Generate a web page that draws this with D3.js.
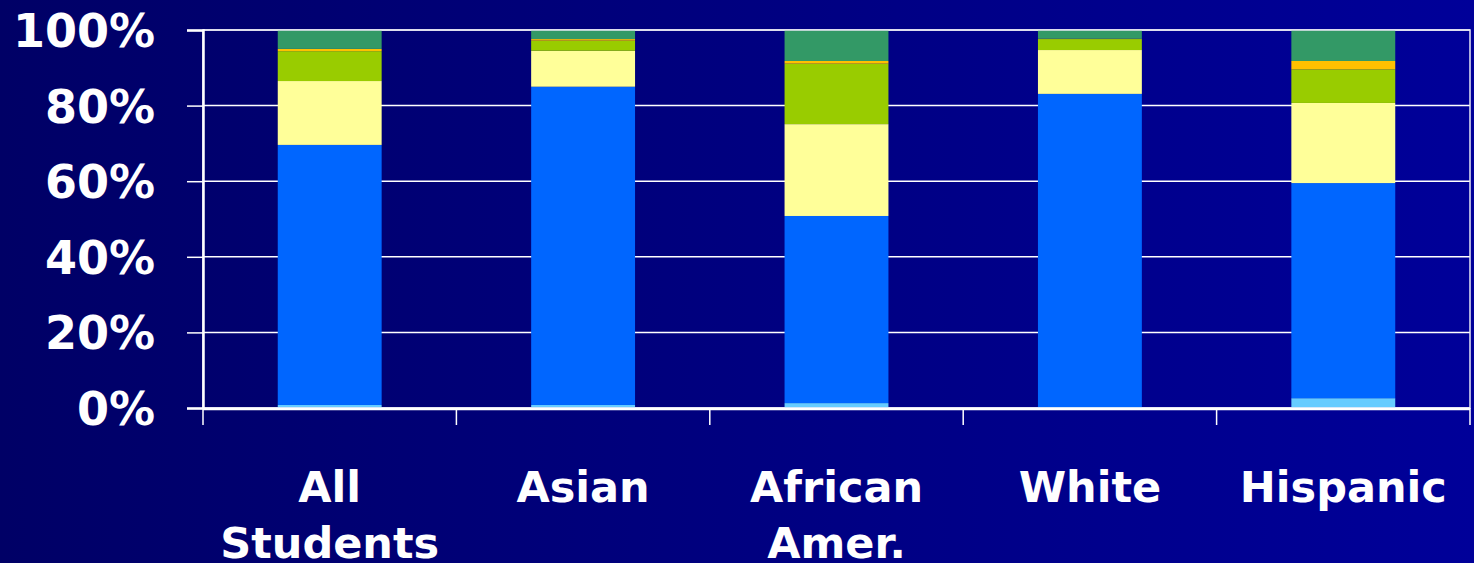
<!DOCTYPE html>
<html>
<head>
<meta charset="utf-8">
<script src="https://cdn.jsdelivr.net/npm/d3@7"></script>
<style>
  html, body { margin: 0; padding: 0; overflow: hidden; }
  svg { display: block; }
  text { font-family: "DejaVu Sans", Verdana, sans-serif; font-weight: bold; fill: #fff; }
</style>
</head>
<body>
<script>
// groups along the x axis
var groups = ["All Students", "Asian", "African Amer.", "White", "Hispanic"];
// stacked segments, bottom to top (percent of each group)
var seg_lightblue = [0.8, 0.8, 1.3, 0.2, 2.6];
var seg_blue      = [68.8, 84.2, 49.5, 82.9, 56.9];
var seg_yellow    = [16.9, 9.5, 24.3, 11.6, 21.2];
var seg_green     = [7.9, 2.7, 16.0, 2.9, 8.9];
var seg_orange    = [0.6, 0.4, 0.7, 0.1, 2.2];
var seg_darkgreen = [5.0, 2.4, 8.2, 2.3, 8.2];
var y_ticks = [0, 20, 40, 60, 80, 100];

var series = [seg_lightblue, seg_blue, seg_yellow, seg_green, seg_orange, seg_darkgreen];
var colors = ["#66ccff", "#0066ff", "#ffff99", "#99cc00", "#ffc000", "#339966"];

var width = 1474, height = 563;
var margin = {top: 30, right: 4, bottom: 155, left: 203};
var plot_w = width - margin.left - margin.right,
    plot_h = height - margin.top - margin.bottom;

var svg = d3.select("body").append("svg")
    .attr("width", width)
    .attr("height", height);

//background gradient
var grad = svg.append("defs").append("linearGradient")
    .attr("id", "bg")
    .attr("x1", "0").attr("x2", "1").attr("y1", "0").attr("y2", "0");
grad.append("stop").attr("offset", "0%").attr("stop-color", "#000066");
grad.append("stop").attr("offset", "100%").attr("stop-color", "#000099");
svg.append("rect").attr("width", width).attr("height", height).attr("fill", "url(#bg)");

var x = d3.scaleBand().domain(groups).range([0, plot_w]).paddingInner(0.59).paddingOuter(0.295);
var band = d3.scaleBand().domain(groups).range([0, plot_w]);
var y = d3.scaleLinear().domain([0, 100]).range([plot_h, 0]);

var g = svg.append("g").attr("transform", "translate(" + margin.left + "," + margin.top + ")");

//gridlines
g.selectAll(".grid")
    .data(y_ticks)
    .enter().append("line")
    .attr("x1", 0).attr("x2", plot_w)
    .attr("y1", function(d) { return y(d); })
    .attr("y2", function(d) { return y(d); })
    .attr("stroke", "#ffffff")
    .attr("stroke-width", 1.5);

//stack the series
var rows = groups.map(function(name, i) {
    var r = {group: name};
    series.forEach(function(s, k) { r["s" + k] = s[i]; });
    return r;
});
var keys = series.map(function(s, k) { return "s" + k; });
var stacked = d3.stack().keys(keys)(rows);

g.selectAll(".layer")
    .data(stacked)
    .enter().append("g")
    .attr("fill", function(d, k) { return colors[k]; })
    .selectAll("rect")
    .data(function(d) { return d; })
    .enter().append("rect")
    .attr("x", function(d) { return x(d.data.group); })
    .attr("width", x.bandwidth())
    .attr("y", function(d) { return y(d[1]); })
    .attr("height", function(d) { return y(d[0]) - y(d[1]); });

//frame of the plot area
g.append("rect")
    .attr("width", plot_w).attr("height", plot_h)
    .attr("fill", "none")
    .attr("stroke", "#e8e8f4")
    .attr("stroke-width", 1.5);

//y axis
var yAxis = g.append("g")
    .call(d3.axisLeft(y).tickValues(y_ticks).tickSize(16).tickPadding(32)
        .tickFormat(function(d) { return d + "%"; }));
yAxis.select(".domain").attr("stroke", "#fff").attr("stroke-width", 2.5);
yAxis.selectAll(".tick line").attr("stroke", "#fff").attr("stroke-width", 1.5);
yAxis.selectAll("text")
    .attr("fill", "#fff")
    .style("font-size", "46px")
    .attr("dy", "0.36em");

//x axis line and ticks at band edges
g.append("line")
    .attr("x1", 0).attr("x2", plot_w)
    .attr("y1", plot_h + 1).attr("y2", plot_h + 1)
    .attr("stroke", "#fff").attr("stroke-width", 2.5);
var edges = groups.map(function(d) { return band(d); }).concat([plot_w]);
g.selectAll(".xtick")
    .data(edges)
    .enter().append("line")
    .attr("x1", function(d) { return d; }).attr("x2", function(d) { return d; })
    .attr("y1", plot_h).attr("y2", plot_h + 17)
    .attr("stroke", "#fff").attr("stroke-width", 1.5);

//x labels, wrapped over two lines
var label_lines = {
    "All Students": ["All", "Students"],
    "Asian": ["Asian"],
    "African Amer.": ["African", "Amer."],
    "White": ["White"],
    "Hispanic": ["Hispanic"]
};
var labels = g.selectAll(".xlabel")
    .data(groups)
    .enter().append("text")
    .attr("text-anchor", "middle")
    .style("font-size", "43px")
    .attr("transform", function(d) {
        return "translate(" + (band(d) + band.bandwidth() / 2) + "," + (plot_h + 94) + ")";
    });
labels.selectAll("tspan")
    .data(function(d) { return label_lines[d]; })
    .enter().append("tspan")
    .attr("x", 0)
    .attr("y", function(d, i) { return i * 56; })
    .text(function(d) { return d; });
</script>
</body>
</html>
